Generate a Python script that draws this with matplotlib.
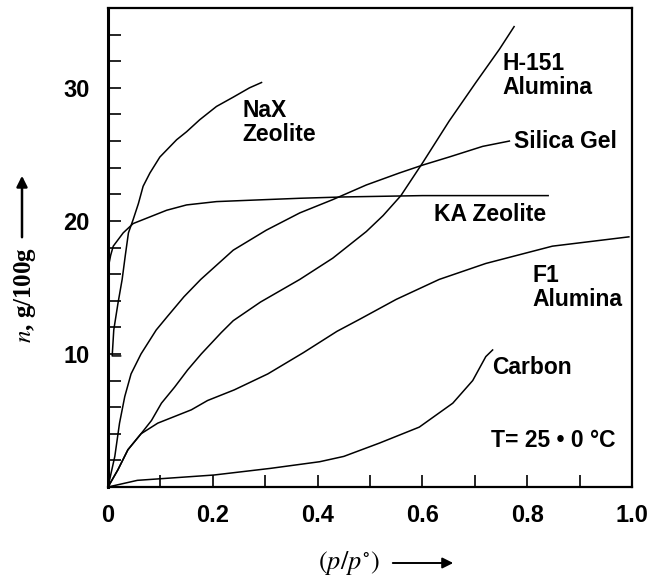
#!/usr/bin/env python3
# -*- coding: utf-8 -*-

import matplotlib
matplotlib.use('Agg')
from matplotlib import pyplot as plt
from matplotlib.ticker import MultipleLocator

# adsorption isotherms, n (g/100g) against relative pressure p/p°
nax_x = [0.024, 0.008, 0.011, 0.019, 0.027, 0.033, 0.039, 0.048, 0.058, 0.067, 0.080, 0.099, 0.131, 0.150, 0.175, 0.207, 0.239, 0.270, 0.293]
nax_y = [9.85, 9.85, 11.8, 13.8, 15.6, 17.4, 19.1, 20.1, 21.3, 22.6, 23.6, 24.8, 26.1, 26.7, 27.6, 28.6, 29.3, 30.0, 30.4]

ka_x = [0.0, 0.005, 0.010, 0.029, 0.048, 0.080, 0.112, 0.150, 0.207, 0.270, 0.366, 0.45, 0.60, 0.84]
ka_y = [16.4, 17.4, 18.1, 19.1, 19.8, 20.3, 20.8, 21.2, 21.45, 21.55, 21.7, 21.8, 21.9, 21.9]

silica_x = [0.0, 0.013, 0.022, 0.032, 0.044, 0.063, 0.092, 0.113, 0.145, 0.177, 0.239, 0.302, 0.366, 0.429, 0.493, 0.556, 0.601, 0.651, 0.715, 0.766]
silica_y = [0.0, 2.3, 4.8, 6.8, 8.5, 10.0, 11.8, 12.8, 14.3, 15.6, 17.8, 19.3, 20.6, 21.6, 22.7, 23.6, 24.2, 24.8, 25.6, 26.0]

h151_x = [0.0, 0.019, 0.038, 0.063, 0.083, 0.102, 0.127, 0.152, 0.178, 0.216, 0.239, 0.291, 0.366, 0.429, 0.493, 0.525, 0.559, 0.601, 0.651, 0.702, 0.747, 0.775]
h151_y = [0.0, 1.3, 2.8, 4.0, 5.0, 6.3, 7.5, 8.8, 10.0, 11.6, 12.5, 13.9, 15.6, 17.2, 19.2, 20.4, 21.9, 24.4, 27.5, 30.4, 32.9, 34.6]

f1_x = [0.0, 0.019, 0.038, 0.063, 0.095, 0.127, 0.159, 0.190, 0.241, 0.273, 0.305, 0.373, 0.437, 0.480, 0.550, 0.632, 0.721, 0.848, 0.994]
f1_y = [0.0, 1.3, 2.8, 4.0, 4.8, 5.3, 5.8, 6.5, 7.3, 7.9, 8.5, 10.1, 11.7, 12.6, 14.1, 15.6, 16.8, 18.1, 18.8]

carbon_x = [0.0, 0.056, 0.202, 0.310, 0.404, 0.450, 0.518, 0.594, 0.658, 0.696, 0.721, 0.734]
carbon_y = [0.0, 0.5, 0.9, 1.4, 1.9, 2.3, 3.3, 4.5, 6.3, 8.0, 9.8, 10.3]

xticks = [0, 0.2, 0.4, 0.6, 0.8, 1.0]
xticklabels = ['0', '0.2', '0.4', '0.6', '0.8', '1.0']
yticks = [10, 20, 30]

plt.rcParams['mathtext.fontset'] = 'stix'
lab = dict(family='Liberation Sans', weight='bold', fontsize=16.5)

fig = plt.figure(figsize=(6.49, 5.80), dpi=100)
ax = fig.add_axes([108/649, 93/580, 524/649, 479/580])

for xs, ys in [(nax_x, nax_y), (ka_x, ka_y), (silica_x, silica_y),
               (h151_x, h151_y), (f1_x, f1_y), (carbon_x, carbon_y)]:
    ax.plot(xs, ys, color='black', lw=1.1)

ax.set_xlim(0, 1.0)
ax.set_ylim(0, 36)
ax.xaxis.set_minor_locator(MultipleLocator(0.1))
ax.yaxis.set_minor_locator(MultipleLocator(2))
ax.set_xticks(xticks)
ax.set_xticklabels(xticklabels)
ax.set_yticks(yticks)
ax.tick_params(which='both', direction='in', length=9, width=1.2)
ax.tick_params(axis='x', pad=12)
ax.tick_params(axis='y', pad=13)
for t in ax.get_xticklabels() + ax.get_yticklabels():
    t.set_fontfamily('Liberation Sans')
    t.set_fontweight('bold')
    t.set_fontsize(17)
for side in ['left', 'bottom', 'top', 'right']:
    ax.spines[side].set_linewidth(1.6)
ax.spines['left'].set_linewidth(2.2)

ax.text(0.257, 27.4, 'NaX\nZeolite', va='center', ha='left', linespacing=1.05, **lab)
ax.text(0.752, 30.9, 'H-151\nAlumina', va='center', ha='left', linespacing=1.05, **lab)
ax.text(0.775, 26.0, 'Silica Gel', va='center', ha='left', **lab)
ax.text(0.623, 20.5, 'KA Zeolite', va='center', ha='left', **lab)
ax.text(0.81, 15.0, 'F1\nAlumina', va='center', ha='left', linespacing=1.05, **lab)
ax.text(0.733, 8.95, 'Carbon', va='center', ha='left', **lab)
ax.text(0.731, 3.5, 'T= 25 • 0 °C', va='center', ha='left', **lab)

# axis titles with arrows
fig.text(25/649, 1 - 295/580, '$n$, g/100g', rotation=90, ha='center', va='center',
         family='Liberation Serif', weight='bold', fontsize=18)
ax.annotate('', xy=(22, 580 - 173), xytext=(22, 580 - 240), xycoords='figure pixels',
            textcoords='figure pixels',
            arrowprops=dict(arrowstyle='-|>', color='black', lw=1.8, mutation_scale=16))
fig.text(349/649, 1 - 563/580, r'$(p/p^{\circ})$', ha='center', va='center', fontsize=19)
ax.annotate('', xy=(456, 17), xytext=(390, 17), xycoords='figure pixels',
            textcoords='figure pixels',
            arrowprops=dict(arrowstyle='-|>', color='black', lw=1.4, mutation_scale=16))

fig.savefig('out.png', dpi=100)
